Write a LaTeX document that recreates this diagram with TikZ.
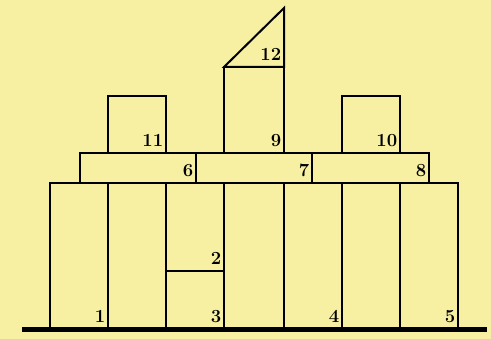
\documentclass[tikz,border=0pt]{standalone}
\begin{document}
\definecolor{bgyellow}{RGB}{247,240,162}
\begin{tikzpicture}[x=1pt,y=-1pt,
  blk/.style={draw=black,line width=2pt,line join=miter},
  num/.style={anchor=base east,inner sep=0pt,xshift=-2.5pt,yshift=6pt,font=\fontsize{18.5}{18.5}\selectfont\bfseries}]
\fill[bgyellow] (0,0) rectangle (491,339);
\useasboundingbox (0,0) rectangle (491,339);
% bottom row
\draw[blk] (50,183) rectangle (108,329) coordinate (b1);
\draw[blk] (108,183) rectangle (166,329) coordinate (bA);
\draw[blk] (166,183) rectangle (224,271) coordinate (b2);
\draw[blk] (166,271) rectangle (224,329) coordinate (b3);
\draw[blk] (224,183) rectangle (284,329) coordinate (bB);
\draw[blk] (284,183) rectangle (342,329) coordinate (b4);
\draw[blk] (342,183) rectangle (400,329) coordinate (bC);
\draw[blk] (400,183) rectangle (458,329) coordinate (b5);
% middle row
\draw[blk] (80,153) rectangle (196,183) coordinate (b6);
\draw[blk] (196,153) rectangle (312,183) coordinate (b7);
\draw[blk] (312,153) rectangle (429,183) coordinate (b8);
% top row
\draw[blk] (108,96) rectangle (166,153) coordinate (b11);
\draw[blk] (224,67) rectangle (284,153) coordinate (b9);
\draw[blk] (342,96) rectangle (400,153) coordinate (b10);
\draw[blk] (224,67) -- (284,8) -- (284,67) coordinate (b12) -- cycle;
% ground
\coordinate (g1) at (22,329.5);
\coordinate (g2) at (487,329.5);
\draw[line width=5pt] (g1) -- (g2);
% labels
\node[num] (l1) at (b1) {1};
\node[num] (l2) at (b2) {2};
\node[num] (l3) at (b3) {3};
\node[num] (l4) at (b4) {4};
\node[num] (l5) at (b5) {5};
\node[num] (l6) at (b6) {6};
\node[num] (l7) at (b7) {7};
\node[num] (l8) at (b8) {8};
\node[num] (l9) at (b9) {9};
\node[num] (l10) at (b10) {10};
\node[num] (l11) at (b11) {11};
\node[num] (l12) at (b12) {12};
\end{tikzpicture}
\end{document}
